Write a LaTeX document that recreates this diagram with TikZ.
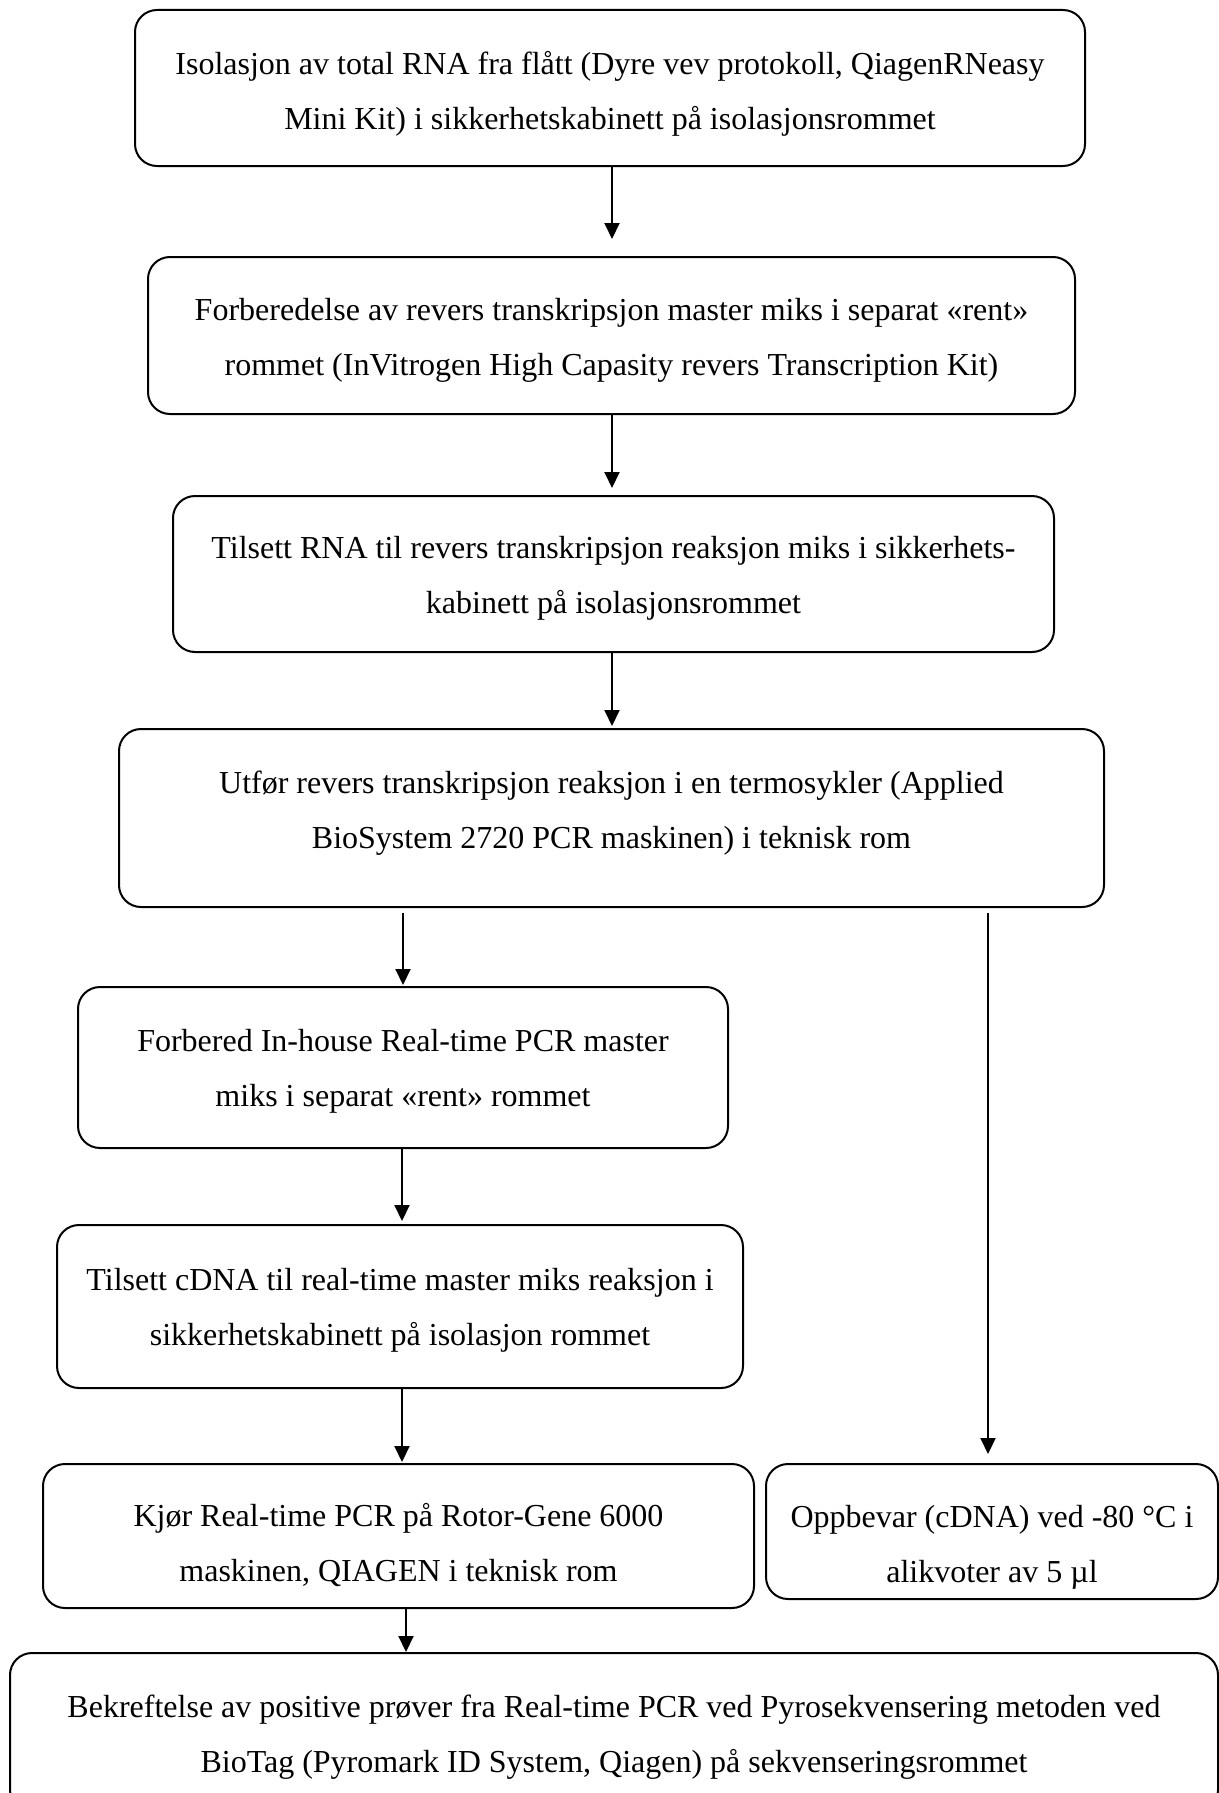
\documentclass[tikz,border=0pt]{standalone}
\usepackage{fontspec}
\setmainfont{Liberation Serif}
\usetikzlibrary{arrows.meta}
\tikzset{
  stepbox/.style={draw, line width=1pt, rounded corners=11pt, inner sep=0pt},
  steptext/.style={inner sep=0pt, align=center, font=\fontsize{16}{27.5}\selectfont},
  arr/.style={line width=1pt, -{Triangle[length=8pt,width=7.5pt]}}
}
\begin{document}
\begin{tikzpicture}[x=0.5pt,y=-0.5pt]
\useasboundingbox (0,0) rectangle (1219,1793);
\begin{scope}
\clip (0,0) rectangle (1219,1793);
\node[stepbox, minimum width=475pt, minimum height=78pt] (b1) at (610,88) {};
\node[stepbox, minimum width=463.5pt, minimum height=78.5pt] (b2) at (611.5,335.5) {};
\node[stepbox, minimum width=440.5pt, minimum height=78pt] (b3) at (613.5,574) {};
\node[stepbox, minimum width=492.5pt, minimum height=89pt] (b4) at (611.5,818) {};
\node[stepbox, minimum width=325pt, minimum height=80.5pt] (b5) at (403,1067.5) {};
\node[stepbox, minimum width=343pt, minimum height=81.5pt] (b6) at (400,1306.5) {};
\node[stepbox, minimum width=355.5pt, minimum height=72pt] (b7) at (398.5,1536) {};
\node[stepbox, minimum width=226pt, minimum height=67.5pt] (b8) at (992,1531.5) {};
\node[stepbox, minimum width=604pt, minimum height=79.5pt] (b9) at (614,1732.5) {};
\end{scope}
\node[steptext, yshift=-2.9pt] (t1) at (b1.center)
  {Isolasjon av total RNA fra flått (Dyre vev protokoll, QiagenRNeasy\\Mini Kit) i sikkerhetskabinett på isolasjonsrommet};
\node[steptext, yshift=-2.3pt] (t2) at (b2.center)
  {Forberedelse av revers transkripsjon master miks i separat «rent»\\rommet (InVitrogen High Capasity revers Transcription Kit)};
\node[steptext, yshift=-2.3pt] (t3) at (b3.center)
  {Tilsett RNA til revers transkripsjon reaksjon miks i sikkerhets-\\kabinett på isolasjonsrommet};
\node[steptext, yshift=2.3pt] (t4) at (b4.center)
  {Utfør revers transkripsjon reaksjon i en termosykler (Applied\\BioSystem 2720 PCR maskinen) i teknisk rom};
\node[steptext, yshift=-1.7pt] (t5) at (b5.center)
  {Forbered In-house Real-time PCR master\\miks i separat «rent» rommet};
\node[steptext, yshift=-1.7pt] (t6) at (b6.center)
  {Tilsett cDNA til real-time master miks reaksjon i\\sikkerhetskabinett på isolasjon rommet};
\node[steptext, yshift=-4.6pt] (t7) at (b7.center)
  {Kjør Real-time PCR på Rotor-Gene 6000\\maskinen, QIAGEN i teknisk rom};
\node[steptext, yshift=-8pt] (t8) at (b8.center)
  {Oppbevar (cDNA) ved -80 °C i\\alikvoter av 5 µl};
\node[steptext, yshift=-2.3pt] (t9) at (b9.center)
  {Bekreftelse av positive prøver fra Real-time PCR ved Pyrosekvensering metoden ved\\BioTag (Pyromark ID System, Qiagen) på sekvenseringsrommet};
\coordinate (a1s) at (b1.south -| 612,0);
\draw[arr, shorten >=8.5pt] (a1s) -- (a1s |- b2.north);
\coordinate (a2s) at (b2.south -| 612,0);
\draw[arr, shorten >=3.5pt] (a2s) -- (a2s |- b3.north);
\coordinate (a3s) at (b3.south -| 612,0);
\draw[arr, shorten >=1pt] (a3s) -- (a3s |- b4.north);
\draw[arr, shorten <=2.5pt, shorten >=0.5pt] (b4.south -| b5.north) -- (b5.north);
\draw[arr, shorten <=2.5pt, shorten >=4.5pt] (b4.south -| 988,0) -- (b8.north -| 988,0);
\coordinate (a5s) at (b5.south -| 402,0);
\draw[arr, shorten >=1.5pt] (a5s) -- (a5s |- b6.north);
\coordinate (a6s) at (b6.south -| 402,0);
\draw[arr, shorten >=0.5pt] (a6s) -- (a6s |- b7.north);
\coordinate (a7s) at (b7.south -| 406,0);
\draw[arr] (a7s) -- (a7s |- b9.north);
\end{tikzpicture}
\end{document}
